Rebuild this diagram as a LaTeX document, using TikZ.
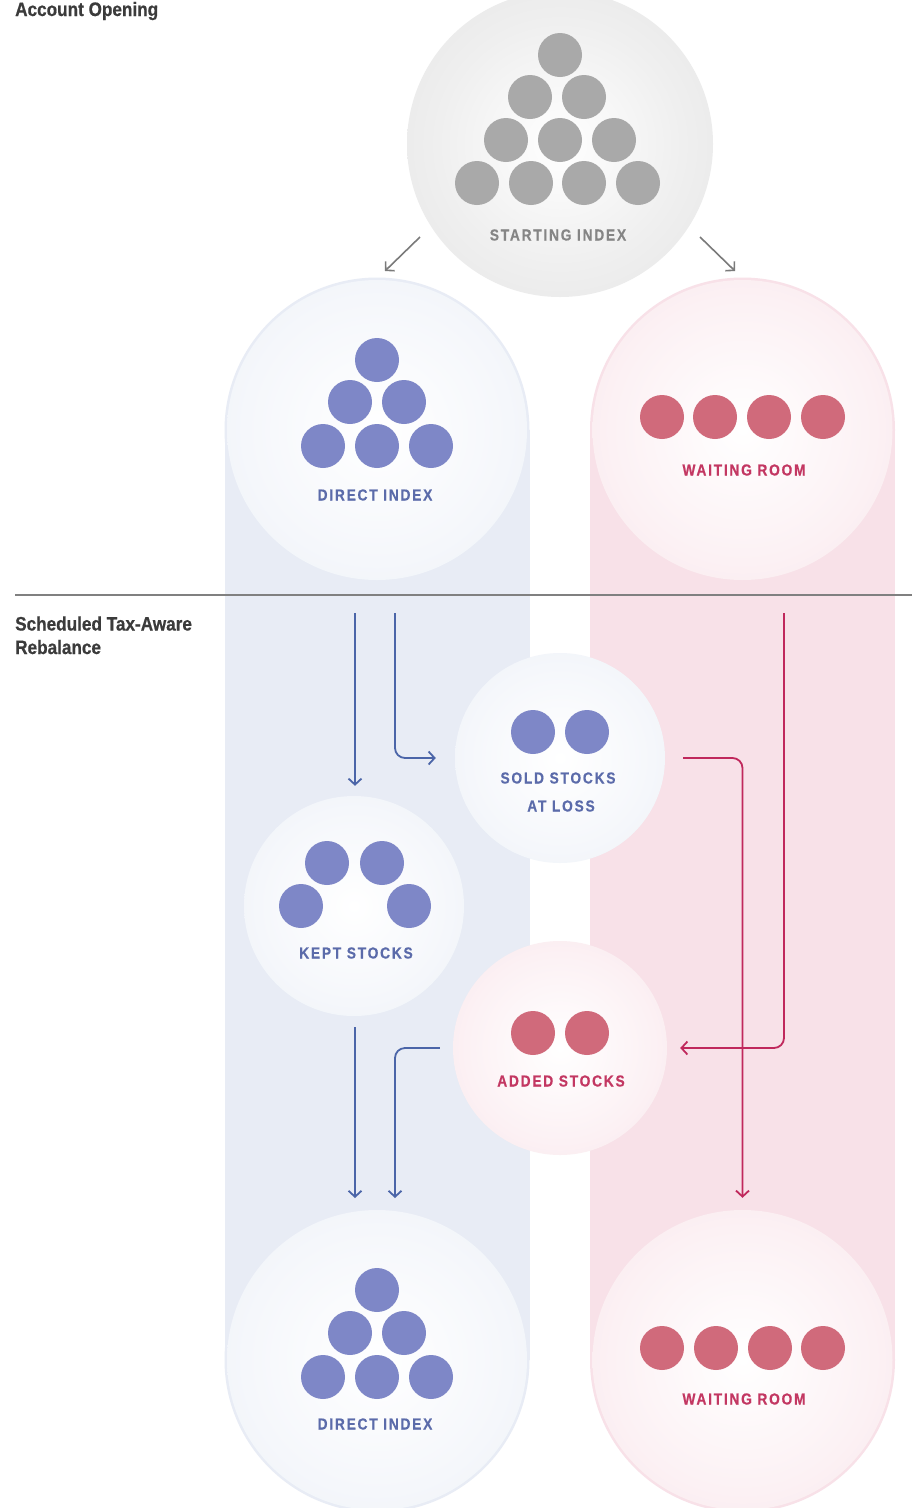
\documentclass[tikz,border=0pt]{standalone}
\usepackage{fontspec}
\setmainfont{Liberation Sans}
\newfontfamily\headfont{Liberation Sans}[FakeStretch=0.88,FakeBold=0.6]
\newfontfamily\labfont{Liberation Sans}[FakeStretch=0.86,LetterSpace=11,FakeBold=0.4]
\usetikzlibrary{arrows.meta}

\definecolor{bluecol}{HTML}{E8ECF5}
\definecolor{bluein}{HTML}{F5F7FB}
\definecolor{bluemid}{HTML}{E8ECF4}
\definecolor{bluerim}{HTML}{DBE0ED}
\definecolor{pinkcol}{HTML}{F8E1E8}
\definecolor{pinkin}{HTML}{FCF1F4}
\definecolor{pinkmid}{HTML}{F6DFE6}
\definecolor{pinkrim}{HTML}{F0D1DC}
\definecolor{grayin}{HTML}{EFEFEF}
\definecolor{graymid}{HTML}{E0E0E0}
\definecolor{grayrim}{HTML}{D0D0D0}
\definecolor{bluedot}{HTML}{7E87C7}
\definecolor{bluetxt}{HTML}{5B6BAA}
\definecolor{bluearr}{HTML}{4B65A8}
\definecolor{pinkdot}{HTML}{D06A7B}
\definecolor{pinktxt}{HTML}{C33762}
\definecolor{pinkarr}{HTML}{C0285C}
\definecolor{graydot}{HTML}{A9A9A9}
\definecolor{graytxt}{HTML}{858585}
\definecolor{grayarr}{HTML}{7A7A7A}
\definecolor{headtxt}{HTML}{3B3B3B}
\definecolor{rulegray}{HTML}{808080}

\pgfdeclareradialshading{blueball}{\pgfpointorigin}{color(0bp)=(white); color(22bp)=(bluein); color(44bp)=(bluemid); color(50bp)=(bluerim)}
\pgfdeclareradialshading{pinkball}{\pgfpointorigin}{color(0bp)=(white); color(22bp)=(pinkin); color(44bp)=(pinkmid); color(50bp)=(pinkrim)}
\pgfdeclareradialshading{grayball}{\pgfpointorigin}{color(0bp)=(white); color(20bp)=(grayin); color(44bp)=(graymid); color(50bp)=(grayrim)}

\tikzset{
  ball/.style={circle, inner sep=0pt, minimum size=#1},
  dot/.style={circle, inner sep=0pt, minimum size=44pt, fill=#1},
  lab/.style={font=\labfont\bfseries\fontsize{16}{18}\selectfont, text=#1, inner sep=0pt},
  head/.style={font=\headfont\bfseries\fontsize{19.5}{24}\selectfont, text=headtxt, inner sep=0pt, align=left},
  barr/.style={draw=bluearr, line width=1.8pt, rounded corners=10pt, -{Straight Barb[length=6pt,width=13pt,line width=1.8pt]}},
  parr/.style={draw=pinkarr, line width=1.8pt, rounded corners=10pt, -{Straight Barb[length=6pt,width=13pt,line width=1.8pt]}},
  garr/.style={draw=grayarr, line width=1.6pt, -{Straight Barb[length=6pt,width=13pt,line width=1.6pt]}},
}

\begin{document}
\begin{tikzpicture}[x=1pt, y=-1pt]
\useasboundingbox (0,0) rectangle (914,1508);
\clip (0,0) rectangle (914,1508);
\fill[white] (0,0) rectangle (914,1508);

% columns
\fill[bluecol] (377,430) circle[radius=152.5];
\fill[bluecol] (224.5,430) rectangle (529.5,1360);
\fill[bluecol] (377,1360) circle[radius=152.5];
\fill[pinkcol] (742.5,430) circle[radius=152.5];
\fill[pinkcol] (590,430) rectangle (895,1360);
\fill[pinkcol] (742.5,1360) circle[radius=152.5];

% starting index
\node[ball=306pt, shading=grayball] (start) at (560,144) {};
\node[dot=graydot] (s1) at (560,55) {};
\node[dot=graydot] (s2) at (530,97) {};
\node[dot=graydot] (s3) at (584,97) {};
\node[dot=graydot] (s4) at (506,140) {};
\node[dot=graydot] (s5) at (560,140) {};
\node[dot=graydot] (s6) at (614,140) {};
\node[dot=graydot] (s7) at (477,183) {};
\node[dot=graydot] (s8) at (531,183) {};
\node[dot=graydot] (s9) at (584,183) {};
\node[dot=graydot] (s10) at (638,183) {};
\node[lab=graytxt] (tstart) at (558,235) {STARTING INDEX};

% direct index (top)
\node[ball=300pt, shading=blueball] (di1) at (377,430) {};
\node[dot=bluedot] (d1a) at (377,360) {};
\node[dot=bluedot] (d1b) at (350,402) {};
\node[dot=bluedot] (d1c) at (404,402) {};
\node[dot=bluedot] (d1d) at (323,446) {};
\node[dot=bluedot] (d1e) at (377,446) {};
\node[dot=bluedot] (d1f) at (431,446) {};
\node[lab=bluetxt] (tdi1) at (375,495) {DIRECT INDEX};

% waiting room (top)
\node[ball=300pt, shading=pinkball] (wr1) at (742.5,430) {};
\node[dot=pinkdot] (w1a) at (662,417) {};
\node[dot=pinkdot] (w1b) at (715,417) {};
\node[dot=pinkdot] (w1c) at (769,417) {};
\node[dot=pinkdot] (w1d) at (823,417) {};
\node[lab=pinktxt] (twr1) at (744,470) {WAITING ROOM};

% sold stocks
\node[ball=210pt, shading=blueball] (sold) at (560,758) {};
\node[dot=bluedot] (so1) at (533,732) {};
\node[dot=bluedot] (so2) at (587,732) {};
\node[lab=bluetxt] (tsold1) at (558,778) {SOLD STOCKS};
\node[lab=bluetxt] (tsold2) at (561,806) {AT LOSS};

% kept stocks
\node[ball=220pt, shading=blueball] (kept) at (354,906) {};
\node[dot=bluedot] (k1) at (327,863) {};
\node[dot=bluedot] (k2) at (382,863) {};
\node[dot=bluedot] (k3) at (301,906) {};
\node[dot=bluedot] (k4) at (409,906) {};
\node[lab=bluetxt] (tkept) at (356,953) {KEPT STOCKS};

% added stocks
\node[ball=214pt, shading=pinkball] (added) at (560,1048) {};
\node[dot=pinkdot] (a1) at (533,1033) {};
\node[dot=pinkdot] (a2) at (587,1033) {};
\node[lab=pinktxt] (tadded) at (561,1081) {ADDED STOCKS};

% direct index (bottom)
\node[ball=300pt, shading=blueball] (di2) at (377,1360) {};
\node[dot=bluedot] (d2a) at (377,1290) {};
\node[dot=bluedot] (d2b) at (350,1333) {};
\node[dot=bluedot] (d2c) at (404,1333) {};
\node[dot=bluedot] (d2d) at (323,1377) {};
\node[dot=bluedot] (d2e) at (377,1377) {};
\node[dot=bluedot] (d2f) at (431,1377) {};
\node[lab=bluetxt] (tdi2) at (375,1424) {DIRECT INDEX};

% waiting room (bottom)
\node[ball=300pt, shading=pinkball] (wr2) at (742.5,1360) {};
\node[dot=pinkdot] (w2a) at (662,1348) {};
\node[dot=pinkdot] (w2b) at (716,1348) {};
\node[dot=pinkdot] (w2c) at (770,1348) {};
\node[dot=pinkdot] (w2d) at (823,1348) {};
\node[lab=pinktxt] (twr2) at (744,1399) {WAITING ROOM};

% section headings and rule
\node[head, anchor=base west] (hopen) at (15,16) {Account Opening};
\node[head, anchor=base west] (hsched) at (15,654) {Scheduled Tax-Aware\\[-0.5pt]Rebalance};
\coordinate (ruleL) at (15,595);
\coordinate (ruleR) at (912,595);
\draw[rulegray, line width=1.5pt] (ruleL) -- (ruleR);

% connectors
\coordinate (gL1) at (420,237); \coordinate (gL2) at (385,271);
\coordinate (gR1) at (700,237); \coordinate (gR2) at (735,271);
\draw[garr] (gL1) -- (gL2);
\draw[garr] (gR1) -- (gR2);

\coordinate (b1s) at (355,613);
\coordinate (b2s) at (395,613);
\draw[barr, shorten >=10pt] (b1s) -- (kept.north -| b1s);
\draw[barr, shorten >=19pt] (b2s) |- (sold.west);

\coordinate (p1s) at (784,613);
\draw[parr, shorten <=18pt, shorten >=12pt] (sold.east) -| (wr2.north);
\draw[parr, shorten >=13pt] (p1s) |- (added.east);

\coordinate (b3e) at (355,1198);
\coordinate (b4e) at (395,1198);
\draw[barr, shorten <=11pt] (kept.south -| b3e) -- (b3e);
\draw[barr, shorten <=13pt] (added.west) -| (b4e);
\end{tikzpicture}
\end{document}
